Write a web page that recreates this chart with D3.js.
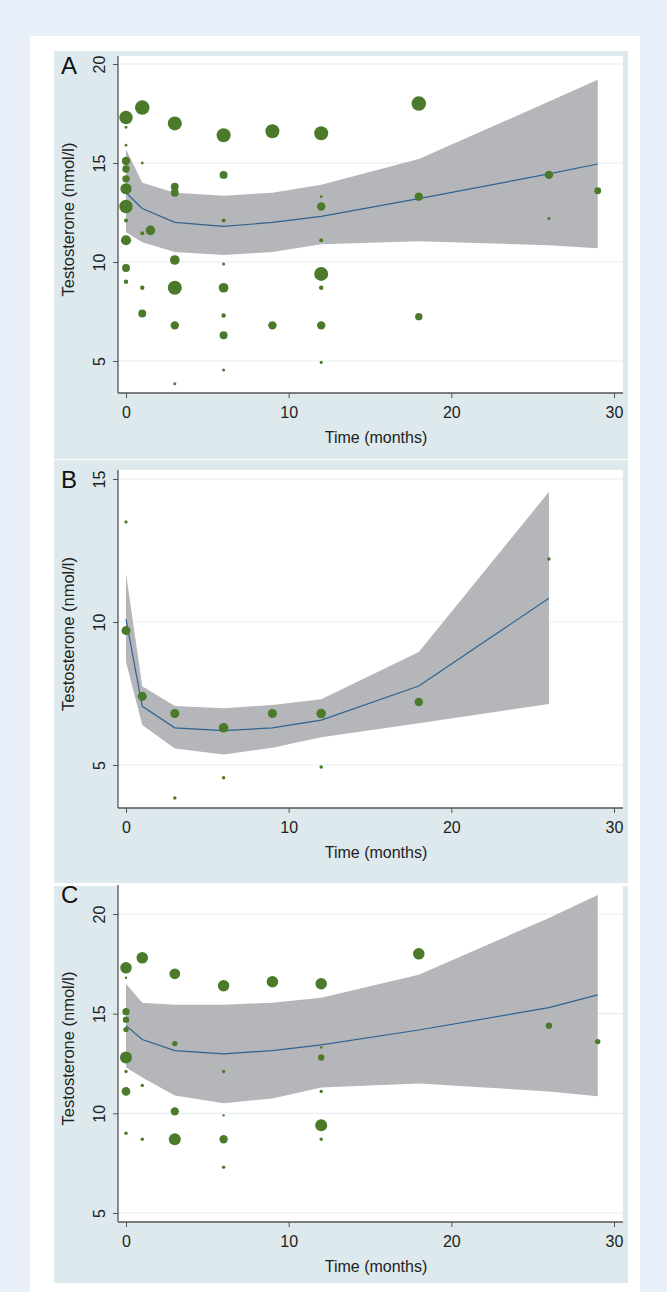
<!DOCTYPE html>
<html>
<head>
<meta charset="utf-8">
<script src="https://cdnjs.cloudflare.com/ajax/libs/d3/7.8.5/d3.min.js"></script>
<style>
  body { margin: 0; background: #e8eff8; }
  svg { display: block; font-family: "Liberation Sans", Arial, sans-serif; }
</style>
</head>
<body>
<div id="chart"></div>
<script>
// ---- data ----
// Panel A: all studies
const timeA   = [0,0,0,0,0,0,0,0,0,0,0,0, 1,1,1,1,1, 1.5, 3,3,3,3,3,3,3, 6,6,6,6,6,6,6,6, 9,9, 12,12,12,12,12,12,12,12, 18,18,18, 26,26, 29];
const valueA  = [17.3,16.8,15.9,15.1,14.7,14.2,13.7,12.8,12.1,11.1,9.7,9.0,
                 17.8,15.0,11.45,8.7,7.4, 11.6,
                 17.0,13.8,13.5,10.1,8.7,6.8,3.85,
                 16.4,14.4,12.1,9.9,8.7,7.3,6.3,4.55,
                 16.6,6.8,
                 16.5,13.3,12.8,11.1,9.4,8.7,6.8,4.93,
                 18.0,13.3,7.24,
                 14.4,12.2, 13.6];
const weightA = [23,1,1,9,7,7,16,23,2,13,8,2.5,
                 27,1,2,2.5,8, 12,
                 25,8,8,12,25,9,1.2,
                 25,8,2,1.2,12,2.5,8,1.2,
                 25,9,
                 25,1,9,2,25,2.5,9,1.2,
                 27,9,7,
                 9,1.2, 6];
const fitTimeA = [0,1,3,6,9,12,18,26,29];
const fitA     = [13.5,12.7,12.0,11.8,12.0,12.3,13.2,14.45,14.95];
const upperA   = [15.7,14.0,13.5,13.35,13.5,13.9,15.2,18.1,19.2];
const lowerA   = [11.5,11.0,10.5,10.35,10.5,10.9,11.05,10.85,10.7];

// Panel B
const timeB   = [0,0, 1, 3,3, 6,6, 9, 12,12, 18, 26];
const valueB  = [13.5,9.7, 7.4, 6.8,3.85, 6.3,4.55, 6.8, 6.8,4.93, 7.2, 12.2];
const weightB = [1,8, 8, 8,1.2, 9,1.2, 8, 9,1.2, 7, 1.2];
const fitTimeB = [0,1,3,6,9,12,18,26];
const fitB     = [10.1,7.05,6.3,6.2,6.3,6.57,7.76,10.83];
const upperB   = [11.7,7.75,7.06,6.98,7.1,7.3,8.95,14.55];
const lowerB   = [8.6,6.4,5.58,5.37,5.6,5.97,6.46,7.13];

// Panel C
const timeC   = [0,0,0,0,0,0,0,0,0, 1,1,1, 3,3,3,3, 6,6,6,6,6, 9, 12,12,12,12,12,12, 18, 26, 29];
const valueC  = [17.3,16.8,15.1,14.7,14.2,12.8,12.1,11.1,9.0,
                 17.8,11.4,8.7,
                 17.0,13.5,10.1,8.7,
                 16.4,12.1,9.9,8.7,7.3,
                 16.6,
                 16.5,13.3,12.8,11.1,9.4,8.7,
                 18.0, 14.4, 13.6];
const weightC = [23,1,9,7,5,25,2,13,2,
                 23,2,2,
                 20,5,12,25,
                 23,2,1,12,2,
                 23,
                 23,1,7,2,25,2,
                 23, 7, 5];
const fitTimeC = [0,1,3,6,9,12,18,26,29];
const fitC     = [14.4,13.7,13.15,12.98,13.15,13.43,14.18,15.3,15.94];
const upperC   = [16.5,15.55,15.45,15.45,15.55,15.8,16.95,19.8,20.95];
const lowerC   = [12.3,11.8,10.9,10.5,10.75,11.3,11.5,11.1,10.86];

const xTicks  = [0,10,20,30];
const yTicksA = [5,10,15,20];
const yTicksB = [5,10,15];
const yTicksC = [5,10,15,20];

const xTitle = 'Time (months)';
const yTitle = 'Testosterone (nmol/l)';

// ---- layout ----
const W = 667, H = 1292;
const plotLeft = 118, plotRight = 623;
const panels = [
  { label: 'A', box: [51, 459], top: 56, bottom: 393, yDom: [5, 20], yPx: [361, 64], yTicks: yTicksA, rMax: 7.0,
    time: timeA, value: valueA, weight: weightA, ft: fitTimeA, fit: fitA, up: upperA, lo: lowerA },
  { label: 'B', box: [460, 883], top: 470, bottom: 808, yDom: [5, 15], yPx: [765, 479], yTicks: yTicksB, rMax: 8.0,
    time: timeB, value: valueB, weight: weightB, ft: fitTimeB, fit: fitB, up: upperB, lo: lowerB },
  { label: 'C', box: [886, 1283], top: 885, bottom: 1222, yDom: [5, 20], yPx: [1213, 914], yTicks: yTicksC, rMax: 6.0,
    time: timeC, value: valueC, weight: weightC, ft: fitTimeC, fit: fitC, up: upperC, lo: lowerC }
];

const svg = d3.select('#chart').append('svg')
  .attr('width', W).attr('height', H);

svg.append('rect').attr('width', W).attr('height', H).attr('fill', '#e8eff8');
svg.append('rect').attr('x', 30).attr('y', 36).attr('width', 610).attr('height', H - 36).attr('fill', '#ffffff');

const x = d3.scaleLinear().domain([0, 30]).range([126, 614]);

panels.forEach(p => {
  const y = d3.scaleLinear().domain(p.yDom).range(p.yPx);
  const r = d3.scaleSqrt().domain([0, 25]).range([0, p.rMax]);
  const g = svg.append('g');

  // panel background + plot region
  g.append('rect').attr('x', 54).attr('y', p.box[0]).attr('width', 574).attr('height', p.box[1] - p.box[0]).attr('fill', '#dde9ec');
  g.append('rect').attr('x', plotLeft).attr('y', p.top).attr('width', plotRight - plotLeft).attr('height', p.bottom - p.top).attr('fill', '#ffffff');

  // gridlines
  g.selectAll('.grid').data(p.yTicks).enter().append('line')
    .attr('x1', plotLeft).attr('x2', plotRight)
    .attr('y1', d => y(d)).attr('y2', d => y(d))
    .attr('stroke', '#e3edf0').attr('stroke-width', 1.2);

  // confidence band
  const band = p.ft.map((t, i) => ({ t, lo: p.lo[i], up: p.up[i], fit: p.fit[i] }));
  g.append('path').datum(band)
    .attr('d', d3.area().x(d => x(d.t)).y0(d => y(d.lo)).y1(d => y(d.up)))
    .attr('fill', '#b5b6b9');

  // fitted line
  g.append('path').datum(band)
    .attr('d', d3.line().x(d => x(d.t)).y(d => y(d.fit)))
    .attr('fill', 'none').attr('stroke', '#2f6391').attr('stroke-width', 1.2);

  // study points
  const pts = p.time.map((t, i) => ({ t, v: p.value[i], w: p.weight[i] }));
  g.selectAll('.pt').data(pts).enter().append('circle')
    .attr('cx', d => x(d.t)).attr('cy', d => y(d.v)).attr('r', d => r(d.w))
    .attr('fill', '#4b7a2b');

  // axes
  const ya = g.append('g').attr('transform', `translate(${plotLeft},0)`)
    .call(d3.axisLeft(y).tickValues(p.yTicks).tickSize(5).tickFormat(d3.format('d')));
  ya.select('.domain').remove();
  ya.selectAll('line').attr('stroke', '#555');
  ya.selectAll('text')
    .attr('x', null).attr('dy', null)
    .attr('transform', 'translate(-13,0) rotate(-90)')
    .attr('text-anchor', 'middle')
    .attr('fill', '#222').style('font-size', '16px');

  const xa = g.append('g').attr('transform', `translate(0,${p.bottom})`)
    .call(d3.axisBottom(x).tickValues(xTicks).tickSize(5));
  xa.select('.domain').remove();
  xa.selectAll('line').attr('stroke', '#555');
  xa.selectAll('text').attr('y', 25).attr('dy', null)
    .attr('fill', '#222').style('font-size', '16px');

  g.append('line').attr('x1', plotLeft).attr('x2', plotLeft).attr('y1', p.top).attr('y2', p.bottom)
    .attr('stroke', '#555').attr('stroke-width', 1.3);
  g.append('line').attr('x1', plotLeft).attr('x2', plotRight).attr('y1', p.bottom).attr('y2', p.bottom)
    .attr('stroke', '#555').attr('stroke-width', 1.3);

  // titles
  g.append('text').attr('x', 376).attr('y', p.bottom + 50)
    .attr('text-anchor', 'middle').attr('fill', '#222').style('font-size', '16px').text(xTitle);
  g.append('text').attr('transform', `translate(74,${(p.top + p.bottom) / 2 - 5}) rotate(-90)`)
    .attr('text-anchor', 'middle').attr('fill', '#222').style('font-size', '16.5px').text(yTitle);
  g.append('text').attr('x', 61).attr('y', p.top + 18)
    .attr('fill', '#111').style('font-size', '24px').text(p.label);
});
</script>
</body>
</html>
